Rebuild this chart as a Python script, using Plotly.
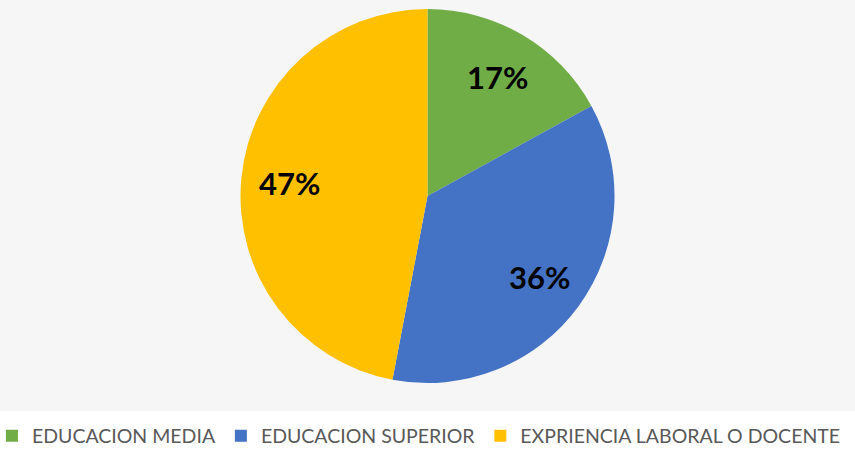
import math
import plotly.graph_objects as go

categories = ["EDUCACION MEDIA", "EDUCACION SUPERIOR", "EXPRIENCIA LABORAL O DOCENTE"]
values = [17, 36, 47]
colors = ["#70ad47", "#4472c4", "#ffc000"]

W, H = 855, 449
M_T, M_B = 9, 66
FONT = "Lato, Open Sans, sans-serif"

fig = go.Figure(go.Pie(
    labels=categories,
    values=values,
    sort=False,
    direction="clockwise",
    rotation=0,
    marker=dict(colors=colors, line=dict(width=0)),
    textinfo="none",
    hoverinfo="label+percent",
))

# percent labels placed at ~74% of the radius, on each slice's mid angle
total = sum(values)
plot_h = H - M_T - M_B
r_frac = 0.74 * (plot_h / 2)
cum = 0
annotations = []
for v in values:
    mid = (cum + v / 2) / total * 2 * math.pi
    cum += v
    dx = r_frac * math.sin(mid)
    dy = r_frac * math.cos(mid)
    annotations.append(dict(
        x=0.5 + dx / W, y=0.5 + dy / plot_h, xref="paper", yref="paper",
        xanchor="center", yanchor="middle",
        text="<b>%d%%</b>" % round(v / total * 100), showarrow=False,
        font=dict(family=FONT, size=31, color="black"),
    ))

fig.update_layout(
    width=W, height=H,
    margin=dict(l=0, r=0, t=M_T, b=M_B, pad=0, autoexpand=False),
    paper_bgcolor="white",
    showlegend=True,
    annotations=annotations,
    legend=dict(
        orientation="h",
        x=0.49, xanchor="center",
        y=-0.142, yanchor="middle",
        font=dict(family=FONT, size=19.5, color="#595959"),
        itemwidth=30,
        borderwidth=0,
        bgcolor="rgba(0,0,0,0)",
    ),
    shapes=[dict(type="rect", xref="paper", yref="paper",
                 x0=-0.01, x1=1.01, y0=-0.075, y1=1.03,
                 fillcolor="#f6f6f6", line=dict(width=0), layer="below")],
)

fig.write_html("out.html", config={"displayModeBar": False},
               post_script="document.body.style.margin='0';")
